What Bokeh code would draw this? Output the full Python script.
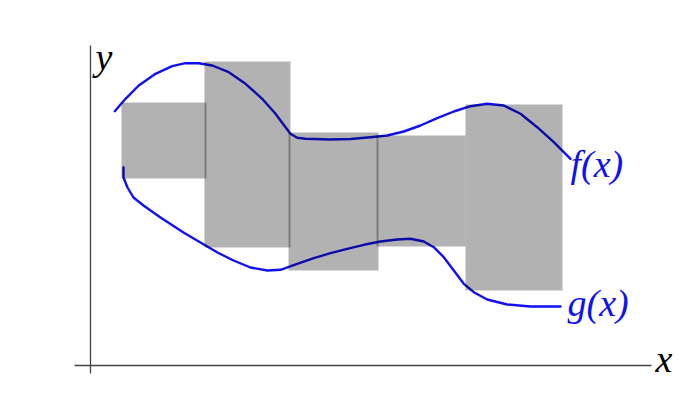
from bokeh.plotting import figure
from bokeh.models import Range1d
from bokeh.core.properties import value
from bokeh.embed import file_html
from bokeh.resources import INLINE

# Diagram units (origin at the axis crossing)
bar_left = [31, 114, 198, 286, 375]
bar_right = [116, 200, 288, 375, 472]
bar_bottom = [187, 118, 95, 119, 75]
bar_top = [263, 304, 233, 230, 261]

f_x = [24.3, 35, 48.3, 65, 81.7, 95, 108.3, 121.7, 138.3, 155, 171.7, 185, 195, 200,
       206.7, 215, 240, 260, 280, 296.7, 313.3, 330, 346.7, 363.3, 380, 396.7, 413.3,
       430, 446.7, 463.3, 480]
f_y = [254.3, 266.7, 280, 291.7, 299.3, 302.3, 302.3, 300, 293.3, 281.7, 266.7, 251.7,
       238.3, 231.7, 227.7, 226.7, 226, 226.5, 228.3, 230, 234, 240, 247.3, 254, 259.3,
       261.7, 260, 251.7, 238.3, 223.3, 206.7]

g_x = [33, 33, 37, 43, 53, 70, 93, 110, 127, 143, 160, 177, 190, 206.7, 223.3, 240,
       256.7, 273.3, 290, 306.7, 320, 333.3, 343.3, 353.3, 363.3, 373.3, 383.3, 396.7,
       416.7, 440, 470]
g_y = [198, 188, 178, 168, 160, 148, 133, 123, 113, 105, 98, 95, 95.7, 101.7, 107.3,
       112.3, 116.7, 120.7, 124, 126, 126.7, 124, 118.3, 108.3, 95, 81.7, 73.3, 66, 61,
       59, 59]

axis_x0 = [-16, 0]
axis_y0 = [0, 320]
axis_x1 = [561, 0]
axis_y1 = [0, -8]

label_text = ["f(x)", "g(x)"]
label_x = [480, 477]
label_y = [202, 63]
axis_label_text = ["x", "y"]
axis_label_x = [565, 5]
axis_label_y = [7, 309]

BLUE = "#1010f0"

p = figure(width=684, height=392, output_backend="svg", toolbar_location=None,
           x_range=Range1d(-90, 594), y_range=Range1d(-27, 365),
           min_border=0, min_border_left=0, min_border_right=0,
           min_border_top=0, min_border_bottom=0)
p.axis.visible = False
p.grid.visible = False
p.outline_line_color = None
p.background_fill_color = "white"
p.border_fill_color = "white"

p.segment(x0=axis_x0, y0=axis_y0, x1=axis_x1, y1=axis_y1,
          line_color="#444444", line_width=1.3)

p.line(f_x, f_y, line_color=BLUE, line_width=2.4, line_join="round", line_cap="round")
p.line(g_x, g_y, line_color=BLUE, line_width=2.4, line_join="round", line_cap="round")

p.quad(left=bar_left, right=bar_right, bottom=bar_bottom, top=bar_top,
       fill_color="black", fill_alpha=0.3, line_color=None)

p.text(x=label_x, y=label_y, text=label_text, text_color=BLUE,
       text_font=value("Liberation Serif"), text_font_style="italic",
       text_font_size="38px", text_baseline="alphabetic", text_align="left")
p.text(x=axis_label_x, y=axis_label_y, text=axis_label_text, text_color="black",
       text_font=value("Liberation Serif"), text_font_style="italic",
       text_font_size="38px", text_baseline="alphabetic", text_align="left")

open("out.html", "w").write(file_html(p, INLINE))
